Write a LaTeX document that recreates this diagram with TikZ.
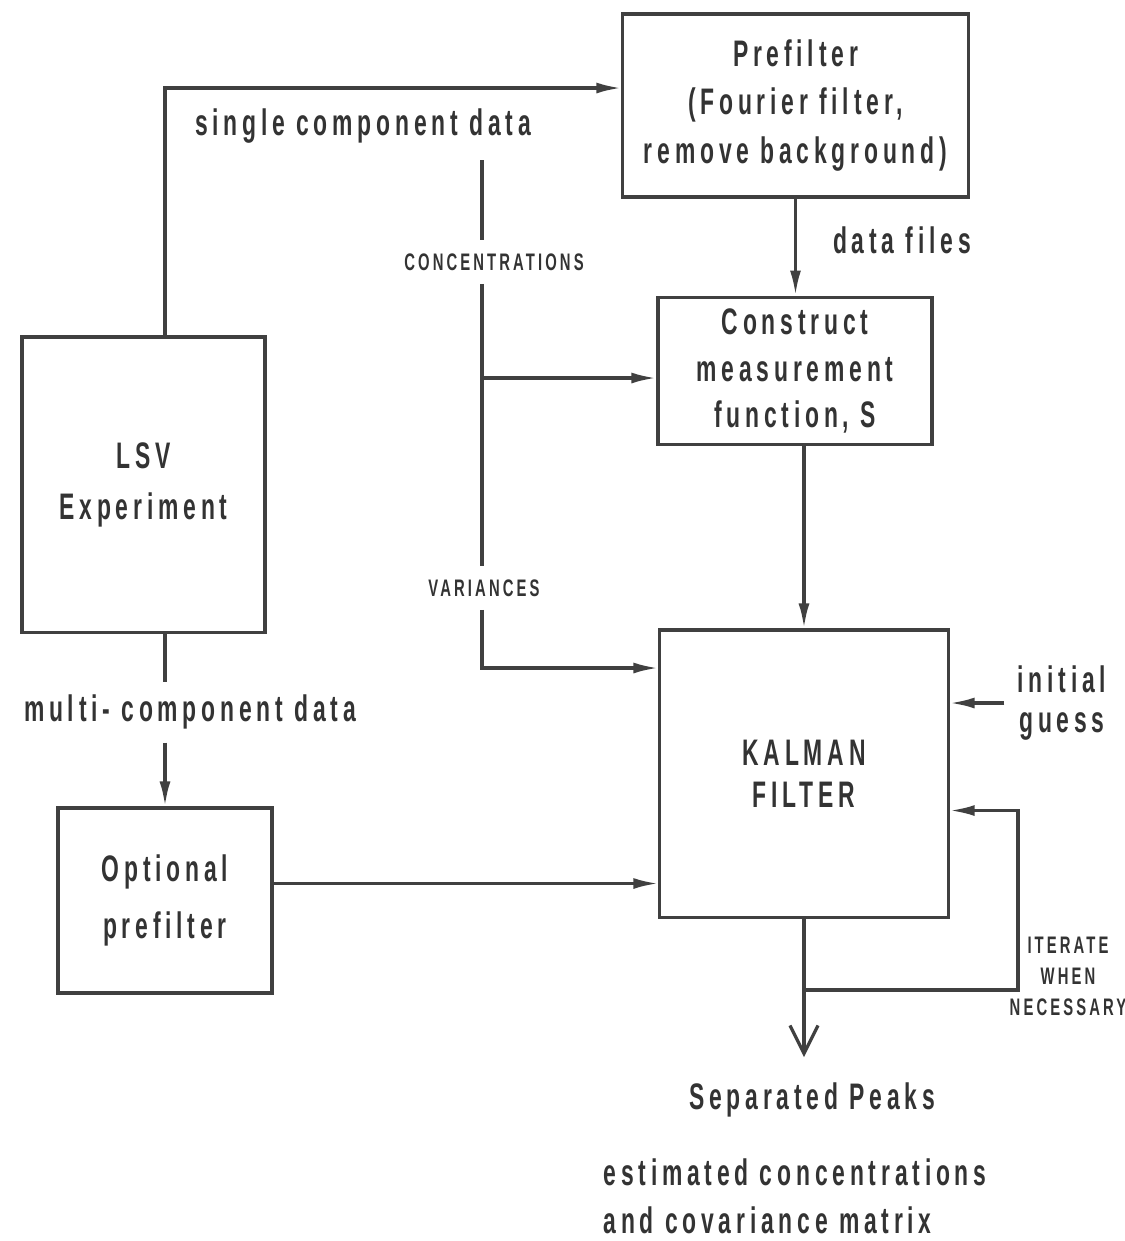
\documentclass[tikz,border=0pt]{standalone}
\usepackage{fontspec}
\setmainfont{Liberation Sans}[FakeStretch=0.62,LetterSpace=13]
\usetikzlibrary{arrows.meta}
\begin{document}
\begin{tikzpicture}[x=0.01cm, y=-0.01cm, line width=0.9pt, color=black!75, text=black!80,
  box/.style={draw, align=center, font=\bfseries\fontsize{10.5}{14.5}\selectfont},
  lbl/.style={align=center, font=\bfseries\fontsize{10.5}{14}\selectfont},
  tag/.style={align=center, font=\bfseries\fontsize{6.8}{8.8}\selectfont},
  arr/.style={-{Latex[length=2.5mm,width=1.1mm]}}]
  \useasboundingbox (0,0) rectangle (1125,1241);
  % blocks
  \node[box, minimum width=2.43cm, minimum height=2.95cm] (lsv) at (143.5,484.5) {LSV\\Experiment};
  \node[box, minimum width=3.45cm, minimum height=1.83cm, font=\bfseries\fontsize{10.5}{13.7}\selectfont] (pre) at (795.5,105.5) {Prefilter\\(Fourier filter,\\remove background)};
  \node[box, minimum width=2.74cm, minimum height=1.38cm, font=\bfseries\fontsize{10.5}{13.2}\selectfont] (cms) at (795,371) {Construct\\measurement\\function, S};
  \node[box, minimum width=2.88cm, minimum height=2.87cm, font=\bfseries\fontsize{10.5}{12}\selectfont] (kal) at (804,773.5) {KALMAN\\FILTER};
  \node[box, minimum width=2.14cm, minimum height=1.85cm, font=\bfseries\fontsize{10.5}{16}\selectfont] (opt) at (165,900.5) {Optional\\prefilter};
  % labels
  \node[lbl] (scd) at (363,126) {single component data};
  \node[lbl] (mcd) at (190,712) {multi- component data};
  \node[lbl] (dfl) at (902,240) {data files};
  \node[lbl, font=\bfseries\fontsize{10.5}{11.5}\selectfont] (ig) at (1062,703) {initial\\guess};
  \node[tag] (conc) at (494,262) {CONCENTRATIONS};
  \node[tag] (var) at (484,588) {VARIANCES};
  \node[tag] (itn) at (1068,976) {ITERATE\\WHEN\\NECESSARY};
  \node[lbl] (sep) at (812,1100) {Separated Peaks};
  \node[lbl, align=left, anchor=west, inner sep=0pt, font=\bfseries\fontsize{10.5}{13.6}\selectfont] (est) at (602,1196) {estimated concentrations\\and covariance matrix};
  % corners and free ends
  \coordinate (sc) at (165,88);
  \coordinate (ctop) at (482,160);
  \coordinate (cbr) at (482,378);
  \coordinate (vbot) at (482,668);
  \coordinate (itr) at (1018,990);
  \coordinate (out) at (804,1057);
  % connectors
  \draw[arr] (lsv.north -| sc) -- (sc) -- (sc -| pre.west);
  \draw (lsv.south -| opt.north) -- (mcd.north -| opt.north);
  \draw[arr] (mcd.south -| opt.north) -- (opt.north);
  \draw (ctop) -- (ctop |- conc.north);
  \draw (ctop |- conc.south) -- (ctop |- var.north);
  \draw[arr] (cbr) -- (cbr -| cms.west);
  \draw[arr] (ctop |- var.south) |- (kal.west |- vbot);
  \draw[arr] (pre.south) -- (pre.south |- cms.north);
  \draw[arr] (cms.south -| kal.north) -- (kal.north);
  \draw[arr] ([yshift=0.17cm]opt.east) -- ([yshift=0.17cm]opt.east -| kal.west);
  \draw[arr] (ig.west) -- (ig.west -| kal.east);
  \draw[arr] (kal.south |- itr) -- (itr) |- ([yshift=-0.37cm]kal.east);
  \draw[-{Straight Barb[length=2.8mm,width=2.8mm]}] (kal.south) -- (out);
\end{tikzpicture}
\end{document}
